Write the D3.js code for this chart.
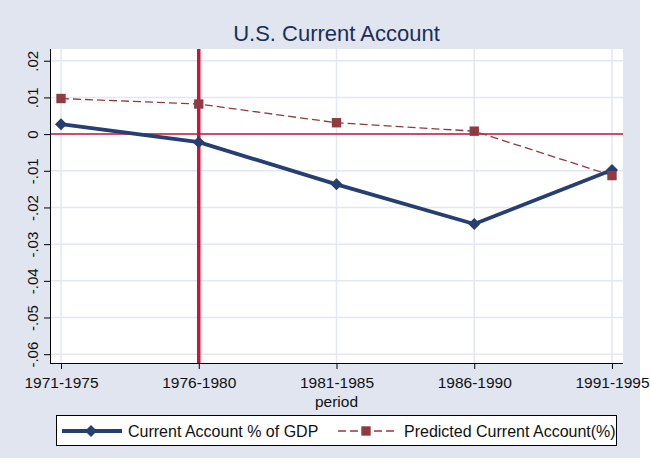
<!DOCTYPE html>
<html><head><meta charset="utf-8">
<script src="https://cdn.jsdelivr.net/npm/d3@7"></script>
<style>body{margin:0;background:#fff;} text{font-family:Arial,"Liberation Sans",sans-serif;}</style>
</head><body>
<svg id="c" width="650" height="464"></svg>
<script>
const categories = ["1971-1975","1976-1980","1981-1985","1986-1990","1991-1995"];
const currentAccount = [0.0027, -0.0022, -0.0137, -0.0245, -0.0098];
const predicted = [0.0097, 0.0082, 0.0031, 0.0008, -0.0113];
const yTicks = [0.02, 0.01, 0, -0.01, -0.02, -0.03, -0.04, -0.05, -0.06];
const yTickLabels = [".02",".01","0","-.01","-.02","-.03","-.04","-.05","-.06"];
const seriesNames = ["Current Account % of GDP","Predicted Current Account(%)"];
const title = "U.S. Current Account";
const xTitle = "period";
const refX = "1976-1980";
const refY = 0;

const svg = d3.select("#c");
const bg = "#e0e5f0", navy = "#263f70", maroon = "#913a3f", red = "#c8143c", grid = "#e2e7f1";
const L = 50, R = 623, T = 49, B = 363;

svg.append("rect").attr("x",0).attr("y",0).attr("width",640).attr("height",458).attr("fill",bg);
svg.append("rect").attr("x",L).attr("y",T).attr("width",R-L).attr("height",B-T).attr("fill","#fff");

const x = d3.scalePoint().domain(categories).range([L,R]).padding(0.08);
const y = d3.scaleLinear().domain([-0.0624,0.0232]).range([B,T]);

// gridlines
svg.append("g").selectAll("line").data(yTicks).join("line")
  .attr("x1",L).attr("x2",R).attr("y1",d=>y(d)).attr("y2",d=>y(d))
  .attr("stroke",grid).attr("stroke-width",1.5);
svg.append("g").selectAll("line").data(categories).join("line")
  .attr("x1",d=>x(d)).attr("x2",d=>x(d)).attr("y1",T).attr("y2",B)
  .attr("stroke",grid).attr("stroke-width",1.5);

// reference lines
svg.append("line").attr("x1",L).attr("x2",R).attr("y1",y(refY)).attr("y2",y(refY))
  .attr("stroke",red).attr("stroke-width",1.5);
svg.append("line").attr("x1",x(refX)).attr("x2",x(refX)).attr("y1",T).attr("y2",B)
  .attr("stroke",red).attr("stroke-width",3.5);

// axes
const yAxis = d3.axisLeft(y).tickValues(yTicks).tickSize(6).tickPadding(6)
  .tickFormat((d,i)=>yTickLabels[i]);
const gy = svg.append("g").attr("transform",`translate(${L},0)`).call(yAxis);
gy.select(".domain").attr("stroke","#000").attr("d",`M0.5,${T}V${B}`);
gy.selectAll(".tick line").attr("stroke","#000");
gy.selectAll(".tick text").attr("font-size",15).attr("fill","#111")
  .attr("text-anchor","middle").attr("dy",null).attr("x",null)
  .attr("transform","translate(-12,0) rotate(-90)").attr("y",0);

const xAxis = d3.axisBottom(x).tickSize(6).tickPadding(8);
const gx = svg.append("g").attr("transform",`translate(0,${B})`).call(xAxis);
gx.select(".domain").attr("stroke","#000").attr("d",`M${L},0.5H${R}`);
gx.selectAll(".tick line").attr("stroke","#000");
gx.selectAll(".tick text").attr("font-size",15.5).attr("fill","#111").attr("dy",null).attr("y",25);

svg.append("text").attr("x",(L+R)/2).attr("y",407).attr("text-anchor","middle")
  .attr("font-size",15.5).attr("fill","#111").text(xTitle);
svg.append("text").attr("x",(L+R)/2).attr("y",41).attr("text-anchor","middle")
  .attr("font-size",22).attr("fill","#1c2d57").text(title);

// series
const line = d3.line().x((d,i)=>x(categories[i])).y(d=>y(d));
svg.append("path").datum(predicted).attr("d",line).attr("fill","none")
  .attr("stroke",maroon).attr("stroke-width",1.3).attr("stroke-dasharray","8,4");
svg.append("path").datum(currentAccount).attr("d",line).attr("fill","none")
  .attr("stroke",navy).attr("stroke-width",3.8).attr("stroke-linejoin","round");

const diamond = d3.symbol().type(d3.symbolSquare).size(72);
const square = d3.symbol().type(d3.symbolSquare).size(88);
svg.append("g").selectAll("path").data(currentAccount).join("path")
  .attr("d",diamond())
  .attr("transform",(d,i)=>`translate(${x(categories[i])},${y(d)}) rotate(45)`)
  .attr("fill",navy);
svg.append("g").selectAll("path").data(predicted).join("path")
  .attr("d",square())
  .attr("transform",(d,i)=>`translate(${x(categories[i])},${y(d)})`)
  .attr("fill",maroon);

// legend
const lg = svg.append("g");
lg.append("rect").attr("x",56.5).attr("y",415.5).attr("width",560).attr("height",30)
  .attr("fill","#fff").attr("stroke","#000").attr("stroke-width",1);
const ly = 431;
lg.append("line").attr("x1",62).attr("x2",122).attr("y1",ly).attr("y2",ly)
  .attr("stroke",navy).attr("stroke-width",3.8);
lg.append("path").attr("d",diamond())
  .attr("transform",`translate(91,${ly}) rotate(45)`).attr("fill",navy);
lg.append("text").attr("x",128).attr("y",ly+6).attr("font-size",16).attr("fill","#111").text(seriesNames[0]);
lg.append("line").attr("x1",338).attr("x2",396).attr("y1",ly).attr("y2",ly)
  .attr("stroke",maroon).attr("stroke-width",1.3).attr("stroke-dasharray","8,4");
lg.append("path").attr("d",square()).attr("transform",`translate(366,${ly})`).attr("fill",maroon);
lg.append("text").attr("x",404).attr("y",ly+6).attr("font-size",16).attr("fill","#111").text(seriesNames[1]);
</script>
</body></html>
